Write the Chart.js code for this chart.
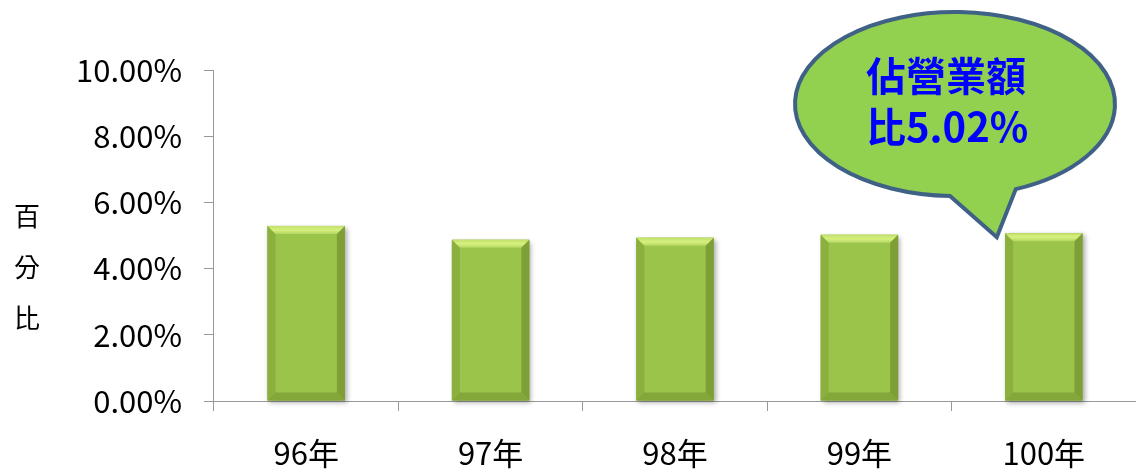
<!DOCTYPE html>
<html>
<head>
<meta charset="utf-8">
<script src="https://cdn.jsdelivr.net/npm/chart.js@4/dist/chart.umd.min.js"></script>
<style>
  html, body { margin: 0; padding: 0; background: #fff; }
  #wrap { width: 1136px; height: 469px; position: relative; }
</style>
</head>
<body>
<div id="wrap"><canvas id="chart"></canvas></div>
<script>
// Chart data
const years = ['96年', '97年', '98年', '99年', '100年'];
const ratios = [5.29, 4.87, 4.93, 5.02, 5.07];
const yTicks = [0, 2, 4, 6, 8, 10];
const axisTitle = ['百', '分', '比'];
const calloutLines = ['佔營業額', '比5.02%'];

const FONT = '"Noto Sans CJK TC", "Noto Sans", sans-serif';

// Vertical gradient for each bar body
function barFill(context) {
    const el = context.element;
    const ctx = context.chart.ctx;
    if (!el || !el.base) return '#9bc44a';
    const g = ctx.createLinearGradient(0, el.y, 0, el.base);
    g.addColorStop(0, '#a7cd55');
    g.addColorStop(0.5, '#97bf48');
    g.addColorStop(1, '#7f9f38');
    return g;
}

// Soft bevel edges on the bars
const bevelPlugin = {
    id: 'bevel',
    beforeDatasetsDraw(chart) {
        const ctx = chart.ctx;
        chart.getDatasetMeta(0).data.forEach(bar => {
            const l = bar.x - bar.width / 2;
            ctx.save();
            ctx.shadowColor = 'rgba(0,0,0,0.35)';
            ctx.shadowBlur = 5;
            ctx.shadowOffsetX = 2;
            ctx.shadowOffsetY = 2;
            ctx.fillStyle = '#8aad40';
            ctx.fillRect(l, bar.y, bar.width, bar.base - bar.y);
            ctx.restore();
        });
    },
    afterDatasetsDraw(chart) {
        const ctx = chart.ctx;
        chart.getDatasetMeta(0).data.forEach(bar => {
            const l = bar.x - bar.width / 2, r = bar.x + bar.width / 2;
            const t = bar.y, b = bar.base;
            const d = 8;
            ctx.save();
            // top face
            const gt = ctx.createLinearGradient(0, t, 0, t + d);
            gt.addColorStop(0, '#c2e06a');
            gt.addColorStop(0.5, '#d6f07f');
            gt.addColorStop(1, '#b4d662');
            ctx.fillStyle = gt;
            ctx.beginPath();
            ctx.moveTo(l, t); ctx.lineTo(r, t); ctx.lineTo(r - d, t + d); ctx.lineTo(l + d, t + d);
            ctx.closePath(); ctx.fill();
            // left face
            ctx.fillStyle = 'rgba(110,140,40,0.35)';
            ctx.beginPath();
            ctx.moveTo(l, t); ctx.lineTo(l + d, t + d); ctx.lineTo(l + d, b - d); ctx.lineTo(l, b);
            ctx.closePath(); ctx.fill();
            // right face
            ctx.fillStyle = 'rgba(90,115,30,0.45)';
            ctx.beginPath();
            ctx.moveTo(r, t); ctx.lineTo(r - d, t + d); ctx.lineTo(r - d, b - d); ctx.lineTo(r, b);
            ctx.closePath(); ctx.fill();
            // bottom face
            ctx.fillStyle = 'rgba(90,115,30,0.35)';
            ctx.beginPath();
            ctx.moveTo(l, b); ctx.lineTo(l + d, b - d); ctx.lineTo(r - d, b - d); ctx.lineTo(r, b);
            ctx.closePath(); ctx.fill();
            ctx.restore();
        });
    }
};

// Vertical axis title and speech bubble
const decorPlugin = {
    id: 'decor',
    afterDraw(chart) {
        const ctx = chart.ctx;
        const x = chart.scales.x, y = chart.scales.y;
        ctx.save();
        ctx.fillStyle = '#000';
        ctx.font = '26px ' + FONT;
        ctx.textAlign = 'center';
        ctx.textBaseline = 'middle';
        axisTitle.forEach((ch, i) => ctx.fillText(ch, 27, 216 + i * 51));

        // bubble
        const cx = 955, cy = 104, rx = 160, ry = 92;
        const last = ratios.length - 1;
        const tipX = x.getPixelForValue(last) - 47;
        const tipY = y.getPixelForValue(ratios[last]) + 4;
        ctx.beginPath();
        ctx.ellipse(cx, cy, rx, ry, 0, Math.PI * 0.51, Math.PI * 0.376 + Math.PI * 2, false);
        ctx.lineTo(tipX, tipY);
        ctx.closePath();
        ctx.fillStyle = '#92d050';
        ctx.fill();
        ctx.lineWidth = 4;
        ctx.lineJoin = 'miter';
        ctx.strokeStyle = '#3f6186';
        ctx.stroke();

        ctx.fillStyle = '#0000ff';
        ctx.font = 'bold 40px ' + FONT;
        ctx.textAlign = 'left';
        ctx.fillText(calloutLines[0], 866, 76);
        ctx.fillText(calloutLines[1], 866, 127);
        ctx.restore();
    }
};

const ctx = document.getElementById('chart').getContext('2d');
new Chart(ctx, {
    type: 'bar',
    data: {
        labels: years,
        datasets: [{
            data: ratios,
            backgroundColor: barFill,
            borderWidth: 0,
            barPercentage: 0.42,
            categoryPercentage: 1
        }]
    },
    options: {
        responsive: true,
        maintainAspectRatio: false,
        animation: false,
        layout: { padding: { left: 54, top: 70, right: 0, bottom: -27 } },
        plugins: {
            legend: { display: false },
            tooltip: { enabled: false }
        },
        scales: {
            x: {
                offset: true,
                grid: { offset: true, drawOnChartArea: false, color: '#999', tickLength: 10 },
                border: { color: '#999' },
                ticks: { color: '#000', font: { size: 31, family: FONT, lineHeight: 1 }, padding: 27 }
            },
            y: {
                min: 0,
                max: 10,
                afterBuildTicks(scale) { scale.ticks = yTicks.map(v => ({ value: v })); },
                grid: { drawOnChartArea: false, color: '#999', tickLength: 10 },
                border: { color: '#999' },
                ticks: {
                    color: '#000',
                    font: { size: 31, family: FONT },
                    padding: 22,
                    callback: v => v.toFixed(2) + '%'
                }
            }
        }
    },
    plugins: [bevelPlugin, decorPlugin]
});
</script>
</body>
</html>
